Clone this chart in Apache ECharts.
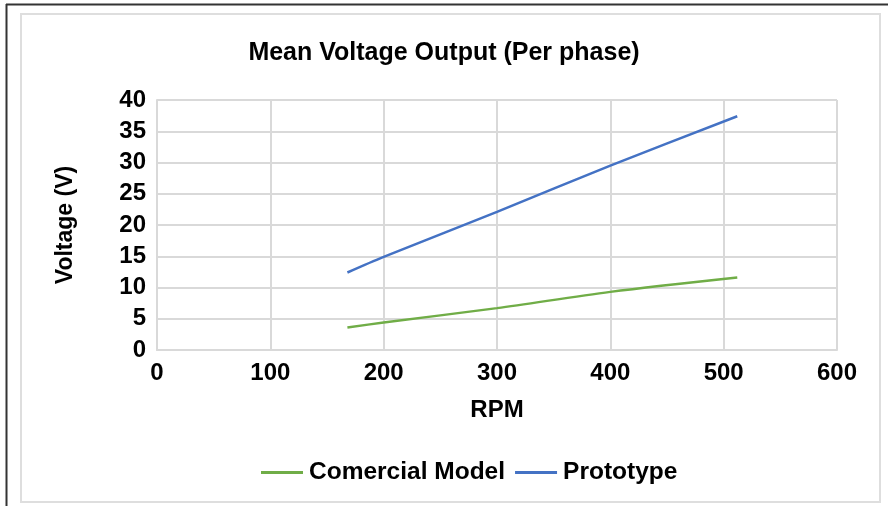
<!DOCTYPE html>
<html>
<head>
<meta charset="utf-8">
<script src="https://cdn.jsdelivr.net/npm/echarts@6/dist/echarts.min.js"></script>
<style>
  html, body { margin: 0; padding: 0; background: #fff; }
  #chart { width: 888px; height: 506px; }
</style>
</head>
<body>
<div id="chart"></div>
<script>
// Mean per-phase voltage against shaft speed
const seriesNames = ['Comercial Model', 'Prototype'];
const rpmCommercial = [168, 200, 300, 400, 512];
const voltCommercial = [3.6, 4.4, 6.7, 9.3, 11.6];
const rpmPrototype = [168, 200, 300, 400, 512];
const voltPrototype = [12.4, 14.9, 22.1, 29.5, 37.4];
const colors = ['#70AD47', '#4472C4'];

const pairs = (xs, ys) => xs.map((x, i) => [x, ys[i]]);
const font = 'Liberation Sans, Arial, sans-serif';

const chart = echarts.init(document.getElementById('chart'), null, { renderer: 'canvas' });
chart.setOption({
  backgroundColor: '#fff',
  animation: false,
  title: {
    text: 'Mean Voltage Output (Per phase)',
    left: 'center',
    top: 36,
    textStyle: { fontFamily: font, fontWeight: 'bold', fontSize: 25, color: '#000' }
  },
  graphic: [
    { type: 'rect', shape: { x: 21, y: 14, width: 859, height: 488 },
      style: { fill: 'none', stroke: '#dedede', lineWidth: 2 }, z: -1 },
    { type: 'line', shape: { x1: 6, y1: 4.5, x2: 888, y2: 4.5 },
      style: { stroke: '#333', lineWidth: 2 } },
    { type: 'line', shape: { x1: 6.5, y1: 4, x2: 6.5, y2: 506 },
      style: { stroke: '#333', lineWidth: 2 } }
  ],
  legend: {
    left: 256,
    top: 455,
    itemWidth: 42,
    itemHeight: 3,
    itemGap: 10,
    icon: 'rect',
    data: seriesNames,
    textStyle: { fontFamily: font, fontWeight: 'bold', fontSize: 24.5, color: '#000', padding: [0, 0, 0, 1] }
  },
  grid: { left: 157, top: 100, right: 51, bottom: 156, containLabel: false },
  xAxis: {
    type: 'value',
    min: 0, max: 600, interval: 100,
    name: 'RPM',
    nameLocation: 'middle',
    nameGap: 48,
    nameTextStyle: { fontFamily: font, fontWeight: 'bold', fontSize: 24, color: '#000' },
    axisLine: { show: true, lineStyle: { color: '#d9d9d9', width: 2 } },
    axisTick: { show: false },
    splitLine: { show: true, lineStyle: { color: '#d9d9d9', width: 2 } },
    axisLabel: { fontFamily: font, fontWeight: 'bold', fontSize: 24, color: '#000', margin: 11 }
  },
  yAxis: {
    type: 'value',
    min: 0, max: 40, interval: 5,
    name: 'Voltage (V)',
    nameLocation: 'middle',
    nameRotate: 90,
    nameGap: 80,
    nameTextStyle: { fontFamily: font, fontWeight: 'bold', fontSize: 23, color: '#000' },
    axisLine: { show: true, lineStyle: { color: '#d9d9d9', width: 2 } },
    axisTick: { show: false },
    splitLine: { show: true, lineStyle: { color: '#d9d9d9', width: 2 } },
    axisLabel: { fontFamily: font, fontWeight: 'bold', fontSize: 24, color: '#000', margin: 11 }
  },
  series: [
    {
      name: seriesNames[0], type: 'line', showSymbol: false, smooth: 0.3,
      data: pairs(rpmCommercial, voltCommercial),
      itemStyle: { color: colors[0] },
      lineStyle: { color: colors[0], width: 2.5 }
    },
    {
      name: seriesNames[1], type: 'line', showSymbol: false, smooth: 0.3,
      data: pairs(rpmPrototype, voltPrototype),
      itemStyle: { color: colors[1] },
      lineStyle: { color: colors[1], width: 2.5 }
    }
  ]
});
</script>
</body>
</html>
